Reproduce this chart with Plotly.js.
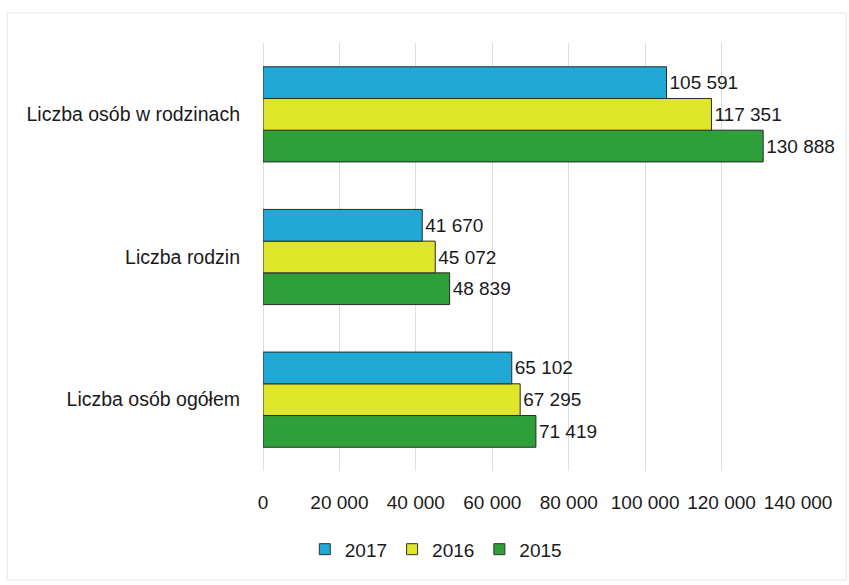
<!DOCTYPE html>
<html>
<head>
<meta charset="utf-8">
<script src="https://cdn.plot.ly/plotly-3.0.1.min.js"></script>
<style>html,body{margin:0;padding:0;background:#fff;}#chart{width:849px;height:585px;}</style>
</head>
<body>
<div id="chart"></div>
<script>
const categories = ["Liczba osób ogółem", "Liczba rodzin", "Liczba osób w rodzinach"];
const years = ["2015", "2016", "2017"];
const legendYears = ["2017", "2016", "2015"];
const values2015 = [71419, 48839, 130888];
const values2016 = [67295, 45072, 117351];
const values2017 = [65102, 41670, 105591];
const tickValues = [0, 20000, 40000, 60000, 80000, 100000, 120000, 140000];

const colors = {"2015": "#2f9f3a", "2016": "#dfe629", "2017": "#1fa9d4"};
const series = {"2015": values2015, "2016": values2016, "2017": values2017};
const FONT = "'Liberation Sans', Arial, sans-serif";

const barTraces = years.map(y => ({
  type: "bar",
  orientation: "h",
  name: y,
  y: categories,
  x: series[y],
  marker: {color: colors[y], line: {color: "#2a2a2a", width: 1}},
  texttemplate: "%{x:,d}",
  textposition: "outside",
  textfont: {family: FONT, size: 19, color: "#1a1a1a"},
  cliponaxis: false,
  showlegend: false
}));

const legendTraces = legendYears.map(y => ({
  type: "scatter", mode: "markers", name: y,
  x: [null], y: [null],
  marker: {symbol: "square", size: 11, color: colors[y], line: {color: "#333", width: 1}},
  showlegend: true
}));

const layout = {
  width: 849, height: 585,
  margin: {l: 263, r: 51, t: 43, b: 114},
  paper_bgcolor: "#fff", plot_bgcolor: "#fff",
  separators: ", ",
  barmode: "group",
  bargap: 0.333,
  bargroupgap: 0,
  font: {family: FONT, size: 19, color: "#1a1a1a"},
  xaxis: {
    range: [0, 140000],
    tickvals: tickValues,
    tickformat: ",d",
    tickangle: 0,
    showgrid: true, gridcolor: "#dedede", gridwidth: 1,
    zeroline: true, zerolinecolor: "#dedede",
    showline: false,
    ticks: "", ticklabelstandoff: 18,
    tickfont: {size: 19}
  },
  yaxis: {
    categoryorder: "array", categoryarray: categories,
    showgrid: false, showline: false, zeroline: false,
    ticks: "", ticklabelstandoff: 22,
    tickfont: {size: 19.5}
  },
  showlegend: true,
  legend: {
    orientation: "h", traceorder: "normal",
    x: 0.323, xanchor: "center", y: -0.183, yanchor: "middle",
    font: {size: 19}, itemwidth: 30
  },
  shapes: [{
    type: "rect", xref: "paper", yref: "paper",
    x0: -0.478, x1: 1.09, y0: -0.255, y1: 1.07,
    line: {color: "#e6e6e6", width: 1}
  }]
};

Plotly.newPlot("chart", barTraces.concat(legendTraces), layout, {staticPlot: true, displayModeBar: false});
</script>
</body>
</html>
